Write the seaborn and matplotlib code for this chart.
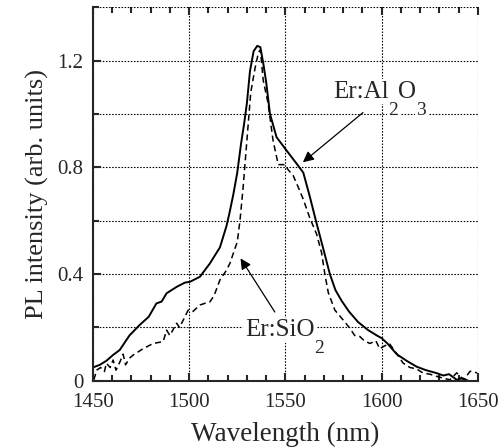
"""PL spectra of Er:Al2O3 and Er:SiO2 films."""

import matplotlib.pyplot as plt
import pandas as pd
import seaborn as sns
from matplotlib.ticker import MultipleLocator

# Er:Al2O3 (solid line)
wl_al2o3 = [1450, 1453.6, 1457, 1460.5, 1464, 1469, 1474.4, 1479, 1483, 1485.7,
            1488.3, 1493.5, 1497.8, 1500.4, 1505.6, 1510.8, 1516, 1519.4, 1521,
            1523, 1525, 1527, 1528.5, 1530, 1531.6, 1533.5, 1535.4, 1537, 1538.5,
            1540, 1542, 1545.4, 1550.6, 1555.8, 1559.3, 1562.7, 1566.2, 1569.5,
            1573.1, 1576, 1579.2, 1583, 1587.8, 1593, 1597.5, 1600, 1603, 1607.8,
            1613, 1618.2, 1623, 1628.5, 1632, 1635, 1639, 1642, 1645]
pl_al2o3 = [0.05, 0.06, 0.075, 0.097, 0.116, 0.17, 0.21, 0.24, 0.29, 0.297,
            0.328, 0.352, 0.368, 0.371, 0.39, 0.44, 0.50, 0.58, 0.63,
            0.70, 0.78, 0.89, 0.96, 1.04, 1.16, 1.235, 1.255, 1.25, 1.19,
            1.12, 1.0, 0.913, 0.863, 0.814, 0.78, 0.69, 0.59, 0.50,
            0.40, 0.34, 0.30, 0.26, 0.22, 0.19, 0.17, 0.16, 0.14, 0.10,
            0.075, 0.053, 0.04, 0.029, 0.02, 0.025, 0.004, 0.01, 0.0]

# Er:SiO2 (dashed line)
wl_sio2 = [1450.5, 1452, 1454, 1456, 1457, 1459, 1460.5, 1462, 1464, 1465.7,
           1467, 1469, 1471, 1476, 1481.3, 1486.5, 1488.3, 1490, 1493.5, 1495,
           1497.8, 1499.5, 1502, 1505.6, 1508, 1510.8, 1513, 1516, 1519, 1521.2,
           1523.8, 1525, 1526.4, 1528, 1530, 1532, 1534.2, 1536, 1537, 1538.5,
           1541, 1543.6, 1546.3, 1549.7, 1551.5, 1554, 1557, 1559.3, 1562.7,
           1566.2, 1568.8, 1570.5, 1572.3, 1575.7, 1580, 1583.5, 1586, 1588.7,
           1591, 1593.9, 1597, 1599, 1600.8, 1604, 1606, 1608, 1611.2, 1614.7,
           1618, 1621.6, 1625, 1628.5, 1632, 1635.5, 1639, 1642.5, 1646, 1649.6]
pl_sio2 = [0.004, 0.04, 0.05, 0.035, 0.066, 0.05, 0.078, 0.04, 0.07, 0.10,
           0.06, 0.085, 0.097, 0.12, 0.14, 0.147, 0.19, 0.17, 0.216, 0.20,
           0.24, 0.265, 0.26, 0.284, 0.29, 0.296, 0.32, 0.378, 0.41, 0.44,
           0.496, 0.52, 0.60, 0.72, 0.90, 1.08, 1.17, 1.23, 1.24, 1.125,
           1.04, 0.90, 0.81, 0.81, 0.79, 0.77, 0.72, 0.68, 0.61,
           0.55, 0.48, 0.40, 0.33, 0.265, 0.228, 0.197, 0.17, 0.166,
           0.15, 0.14, 0.15, 0.12, 0.128, 0.14, 0.12, 0.10, 0.066, 0.05,
           0.045, 0.029, 0.025, 0.017, 0.01, 0.004, 0.03, 0.004, 0.036, 0.03]

x_ticks = [1450, 1500, 1550, 1600, 1650]
y_ticks = [0, 0.4, 0.8, 1.2]
y_labels = ["0", "0.4", "0.8", "1.2"]

sns.set_style("ticks")
plt.rcParams["font.family"] = ["Liberation Serif", "DejaVu Serif"]

al = pd.DataFrame({"wl": wl_al2o3, "pl": pl_al2o3})
si = pd.DataFrame({"wl": wl_sio2, "pl": pl_sio2})

fig, ax = plt.subplots(figsize=(5.02, 4.47), dpi=100)
fig.subplots_adjust(left=0.185, right=0.952, bottom=0.148, top=0.984)

sns.lineplot(data=al, x="wl", y="pl", ax=ax, color="black", lw=1.4, sort=False)
sns.lineplot(data=si, x="wl", y="pl", ax=ax, color="black", lw=1.1, sort=False,
             linestyle=(0, (4, 2.5)))

ax.set_xlim(1450, 1650)
ax.set_ylim(0, 1.4)
ax.set_xticks(x_ticks)
ax.xaxis.set_minor_locator(MultipleLocator(10))
ax.set_yticks(y_ticks)
ax.set_yticklabels(y_labels)
ax.yaxis.set_minor_locator(MultipleLocator(0.2))

grid_kw = dict(color="black", lw=0.8, linestyle=(0, (1.4, 1.4)))
ax.grid(which="major", axis="x", **grid_kw)
ax.grid(which="both", axis="y", **grid_kw)

ax.spines["top"].set_visible(False)
ax.spines["right"].set_visible(False)
for side in ["left", "bottom"]:
    ax.spines[side].set_linewidth(1.5)
ax.tick_params(which="both", direction="in", top=True, right=False,
               width=1.5, labelsize=15)
ax.tick_params(axis="x", which="major", pad=9)
ax.tick_params(axis="y", which="major", pad=7)
ax.tick_params(which="major", length=6)
ax.tick_params(which="minor", length=4)

ax.set_xlabel("Wavelength (nm)", fontsize=19.5, labelpad=7)
ax.set_ylabel("PL intensity (arb. units)", fontsize=19, labelpad=6)


def chem_label(x, y, parts):
    """Write a formula piece by piece, with the subscripts dropped low."""
    box = dict(facecolor="white", edgecolor="none", pad=1)
    base = ax.text(x, y, parts[0], fontsize=18, va="baseline", bbox=box)
    prev = base
    for i, piece in enumerate(parts[1:]):
        if i % 2 == 0:  # subscript, hangs below the baseline
            prev = ax.annotate(piece, xy=(1, 0), xycoords=prev,
                               xytext=(0, 0.5), textcoords="offset points",
                               fontsize=14, va="top", bbox=box)
        else:  # normal text, back on the baseline
            prev = ax.annotate(piece, xy=(1, 0), xycoords=(prev, base),
                               fontsize=18, va="bottom", bbox=box)
    return base


chem_label(1574.7, 1.06, ["Er:Al", "2", "O", "3"])
ax.annotate("", xy=(1559.1, 0.819), xytext=(1590.3, 1.005),
            arrowprops=dict(arrowstyle="-|>", color="black", lw=0.9,
                            mutation_scale=16, shrinkA=0, shrinkB=0))
chem_label(1529, 0.168, ["Er:SiO", "2"])
ax.annotate("", xy=(1526.7, 0.459), xytext=(1544.5, 0.258),
            arrowprops=dict(arrowstyle="-|>", color="black", lw=0.9,
                            mutation_scale=16, shrinkA=0, shrinkB=0))

fig.savefig("out.png", dpi=100)
